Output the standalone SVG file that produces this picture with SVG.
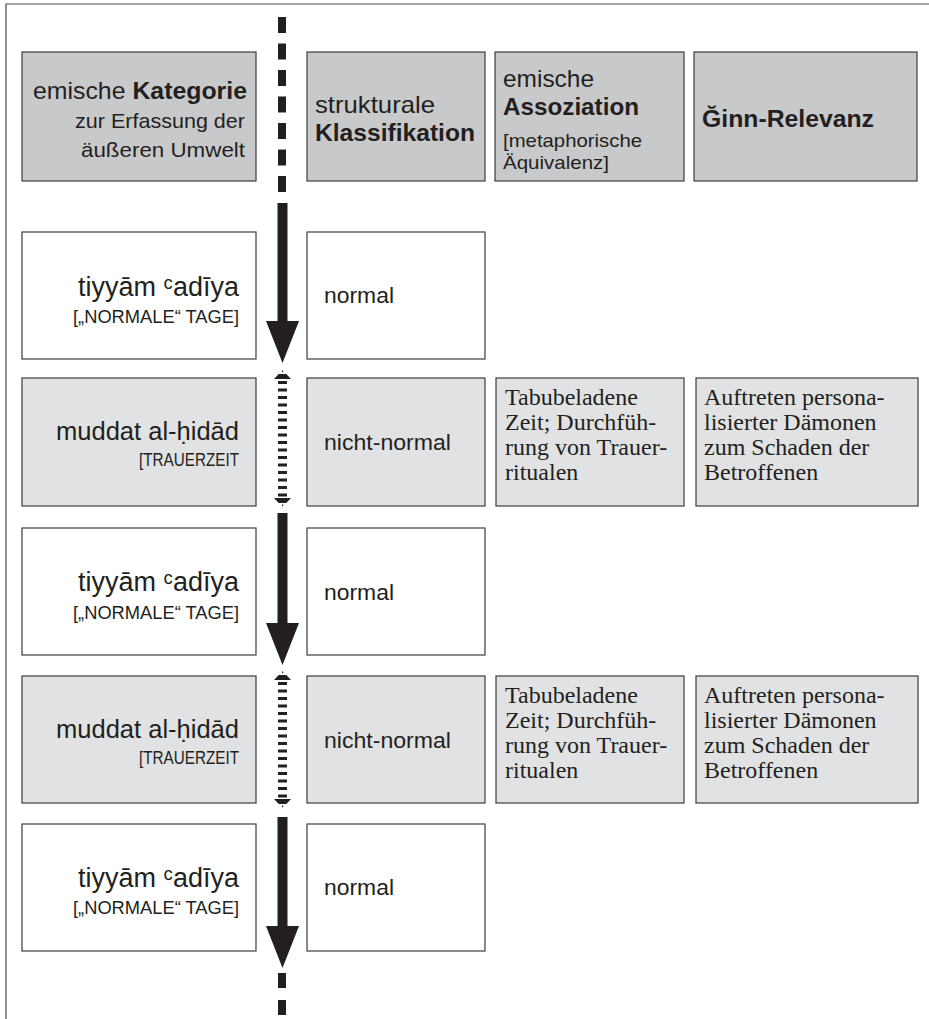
<svg xmlns="http://www.w3.org/2000/svg" width="929" height="1019" viewBox="0 0 929 1019">
<style>
.frame{fill:none;stroke:#4a4a4a;stroke-width:1.2}
.hdr{fill:#c8c9cb;stroke:#3c3c3c;stroke-width:1.2}
.wht{fill:#ffffff;stroke:#3c3c3c;stroke-width:1.2}
.gry{fill:#e1e2e3;stroke:#3c3c3c;stroke-width:1.2}
.s{font-family:"Liberation Sans",Arial,sans-serif;fill:#231f20}
.b{font-weight:bold}
.r{text-anchor:end}
.serif{font-family:"Liberation Serif","Times New Roman",serif;fill:#231f20;font-size:24px}
.ink{fill:#231f20}
</style>
<path class="frame" d="M6,1019 V4 H929"/>

<g id="connectors">
  <line x1="282" y1="17" x2="282" y2="192" stroke="#231f20" stroke-width="8" stroke-dasharray="16 10.5"/>
  <path class="ink" d="M277.5,203 H287.5 V321 H299 L282.5,363 L266,321 H277.5 Z"/>
  <g id="hatch1">
    <rect class="ink" x="282" y="370.5" width="1.2" height="1.6"/>
    <path class="ink" d="M278.7,374 H286.3 L291,379 H274 Z"/>
    <line x1="282.5" y1="381" x2="282.5" y2="497" stroke="#231f20" stroke-width="9" stroke-dasharray="3 4.5"/>
    <path class="ink" d="M274,498 H291 L286.3,503 H278.7 Z"/>
    <rect class="ink" x="282" y="504.5" width="1.2" height="1.6"/>
  </g>
  <path class="ink" d="M277.5,513 H287.5 V623 H299 L282.5,665 L266,623 H277.5 Z"/>
  <g id="hatch2">
    <rect class="ink" x="282" y="671.5" width="1.2" height="1.6"/>
    <path class="ink" d="M278.7,675 H286.3 L291,680 H274 Z"/>
    <line x1="282.5" y1="682" x2="282.5" y2="798" stroke="#231f20" stroke-width="9" stroke-dasharray="3 4.5"/>
    <path class="ink" d="M274,799 H291 L286.3,804 H278.7 Z"/>
    <rect class="ink" x="282" y="805.5" width="1.2" height="1.6"/>
  </g>
  <path class="ink" d="M277.5,817 H287.5 V926 H299 L282.5,968 L266,926 H277.5 Z"/>
  <line x1="282" y1="973" x2="282" y2="1019" stroke="#231f20" stroke-width="8" stroke-dasharray="15 12"/>
</g>

<g id="h1">
  <rect class="hdr" x="22" y="52" width="234" height="129"/>
  <text class="s" x="33" y="99" font-size="24" textLength="214" lengthAdjust="spacingAndGlyphs">emische <tspan class="b">Kategorie</tspan></text>
  <text class="s" x="75" y="128" font-size="21" textLength="170" lengthAdjust="spacingAndGlyphs">zur Erfassung der</text>
  <text class="s" x="81" y="157" font-size="21" textLength="164" lengthAdjust="spacingAndGlyphs">äußeren Umwelt</text>
</g>
<g id="h2">
  <rect class="hdr" x="307" y="52" width="178" height="129"/>
  <text class="s" x="315" y="113" font-size="24" textLength="120" lengthAdjust="spacingAndGlyphs">strukturale</text>
  <text class="s b" x="315" y="141" font-size="24" textLength="160" lengthAdjust="spacingAndGlyphs">Klassifikation</text>
</g>
<g id="h3">
  <rect class="hdr" x="495" y="52" width="189" height="129"/>
  <text class="s" x="503" y="87" font-size="24" textLength="91" lengthAdjust="spacingAndGlyphs">emische</text>
  <text class="s b" x="503" y="115" font-size="24" textLength="136" lengthAdjust="spacingAndGlyphs">Assoziation</text>
  <text class="s" x="503" y="147" font-size="19" textLength="139" lengthAdjust="spacingAndGlyphs">[metaphorische</text>
  <text class="s" x="503" y="169" font-size="19" textLength="106" lengthAdjust="spacingAndGlyphs">Äquivalenz]</text>
</g>
<g id="h4">
  <rect class="hdr" x="694" y="52" width="223" height="129"/>
  <text class="s b" x="702" y="127" font-size="24" textLength="172" lengthAdjust="spacingAndGlyphs">Ğinn-Relevanz</text>
</g>

<g id="r1a">
  <rect class="wht" x="22" y="232" width="234" height="127"/>
  <text class="s" x="78" y="296" font-size="27" textLength="161" lengthAdjust="spacingAndGlyphs">tiyyām ᶜadīya</text>
  <text class="s" x="73" y="323" font-size="19" textLength="166" lengthAdjust="spacingAndGlyphs">[„NORMALE“ TAGE]</text>
</g>
<g id="r1b">
  <rect class="wht" x="307" y="232" width="178" height="127"/>
  <text class="s" x="324" y="303" font-size="22.5" textLength="70" lengthAdjust="spacingAndGlyphs">normal</text>
</g>

<g id="r2a">
  <rect class="gry" x="22" y="378" width="234" height="128"/>
  <text class="s" x="56" y="440" font-size="25.5" textLength="183" lengthAdjust="spacingAndGlyphs">muddat al-ḥidād</text>
  <text class="s" x="139" y="466" font-size="17.5" textLength="100" lengthAdjust="spacingAndGlyphs">[TRAUERZEIT</text>
</g>
<g id="r2b">
  <rect class="gry" x="307" y="378" width="178" height="128"/>
  <text class="s" x="324" y="450" font-size="22.5" textLength="127" lengthAdjust="spacingAndGlyphs">nicht-normal</text>
</g>
<g id="r2c">
  <rect class="gry" x="496" y="378" width="188" height="128"/>
  <text class="serif" x="505" y="405">Tabubeladene</text>
  <text class="serif" x="505" y="430">Zeit; Durchfüh-</text>
  <text class="serif" x="505" y="455">rung von Trauer-</text>
  <text class="serif" x="505" y="480">ritualen</text>
</g>
<g id="r2d">
  <rect class="gry" x="696" y="378" width="222" height="128"/>
  <text class="serif" x="704" y="405">Auftreten persona-</text>
  <text class="serif" x="704" y="430">lisierter Dämonen</text>
  <text class="serif" x="704" y="455">zum Schaden der</text>
  <text class="serif" x="704" y="480">Betroffenen</text>
</g>

<g id="r3a">
  <rect class="wht" x="22" y="528" width="234" height="127"/>
  <text class="s" x="78" y="591" font-size="27" textLength="161" lengthAdjust="spacingAndGlyphs">tiyyām ᶜadīya</text>
  <text class="s" x="73" y="619" font-size="19" textLength="166" lengthAdjust="spacingAndGlyphs">[„NORMALE“ TAGE]</text>
</g>
<g id="r3b">
  <rect class="wht" x="307" y="528" width="178" height="127"/>
  <text class="s" x="324" y="600" font-size="22.5" textLength="70" lengthAdjust="spacingAndGlyphs">normal</text>
</g>

<g id="r4a">
  <rect class="gry" x="22" y="676" width="234" height="127"/>
  <text class="s" x="56" y="738" font-size="25.5" textLength="183" lengthAdjust="spacingAndGlyphs">muddat al-ḥidād</text>
  <text class="s" x="139" y="764" font-size="17.5" textLength="100" lengthAdjust="spacingAndGlyphs">[TRAUERZEIT</text>
</g>
<g id="r4b">
  <rect class="gry" x="307" y="676" width="178" height="127"/>
  <text class="s" x="324" y="748" font-size="22.5" textLength="127" lengthAdjust="spacingAndGlyphs">nicht-normal</text>
</g>
<g id="r4c">
  <rect class="gry" x="496" y="676" width="188" height="127"/>
  <text class="serif" x="505" y="703">Tabubeladene</text>
  <text class="serif" x="505" y="728">Zeit; Durchfüh-</text>
  <text class="serif" x="505" y="753">rung von Trauer-</text>
  <text class="serif" x="505" y="778">ritualen</text>
</g>
<g id="r4d">
  <rect class="gry" x="696" y="676" width="222" height="127"/>
  <text class="serif" x="704" y="703">Auftreten persona-</text>
  <text class="serif" x="704" y="728">lisierter Dämonen</text>
  <text class="serif" x="704" y="753">zum Schaden der</text>
  <text class="serif" x="704" y="778">Betroffenen</text>
</g>

<g id="r5a">
  <rect class="wht" x="22" y="824" width="234" height="127"/>
  <text class="s" x="78" y="887" font-size="27" textLength="161" lengthAdjust="spacingAndGlyphs">tiyyām ᶜadīya</text>
  <text class="s" x="73" y="914" font-size="19" textLength="166" lengthAdjust="spacingAndGlyphs">[„NORMALE“ TAGE]</text>
</g>
<g id="r5b">
  <rect class="wht" x="307" y="824" width="178" height="127"/>
  <text class="s" x="324" y="895" font-size="22.5" textLength="70" lengthAdjust="spacingAndGlyphs">normal</text>
</g>
</svg>
